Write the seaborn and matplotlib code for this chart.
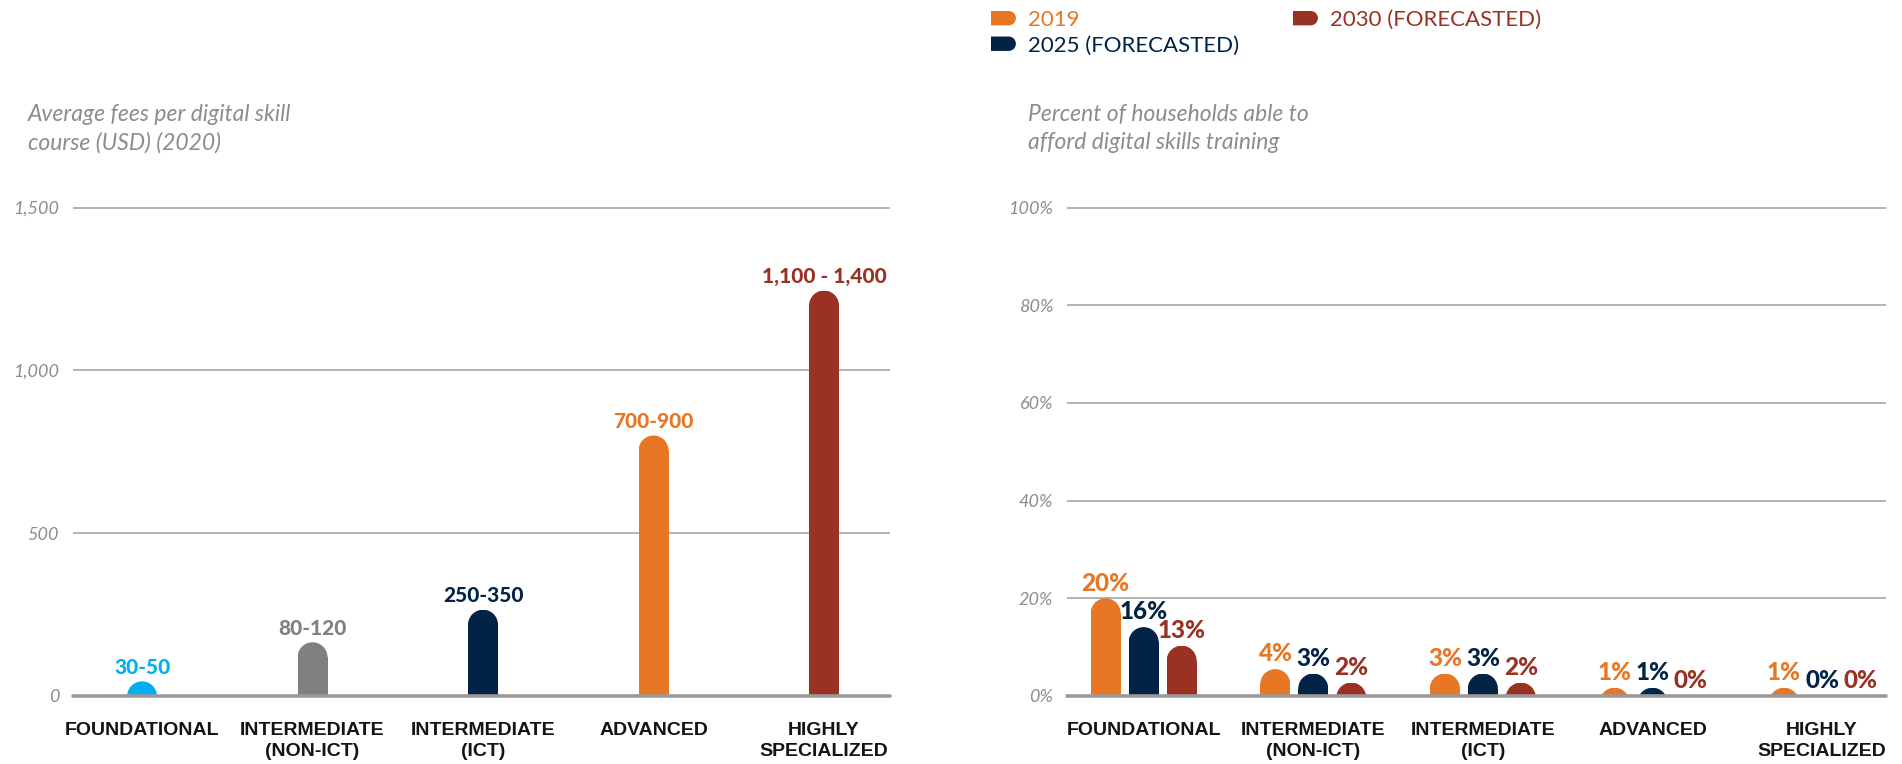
import numpy as np
import pandas as pd
import matplotlib
matplotlib.use('Agg')
import matplotlib.pyplot as plt
from matplotlib.patches import Rectangle, Ellipse, Patch, PathPatch
from matplotlib.path import Path
from matplotlib.legend_handler import HandlerPatch
import seaborn as sns

# ---------------- data ----------------
fee_categories = ['FOUNDATIONAL', 'INTERMEDIATE\n(NON-ICT)', 'INTERMEDIATE\n(ICT)',
                  'ADVANCED', 'HIGHLY\nSPECIALIZED']
fee_values = [45, 165, 265, 800, 1245]
fee_labels = ['30-50', '80-120', '250-350', '700-900', '1,100 - 1,400']
fee_colors = ['#00AEEF', '#808080', '#012345', '#E77724', '#993223']
fee_ticks = [0, 500, 1000, 1500]
fee_ticklabels = ['0', '500', '1,000', '1,500']

years = ['2019', '2025 (FORECASTED)', '2030 (FORECASTED)']
year_colors = ['#E77724', '#012345', '#993223']
afford_2019 = [20, 5.5, 4.6, 1.7, 1.7]
afford_2025 = [14.1, 4.6, 4.6, 1.7, 0]
afford_2030 = [10.3, 2.75, 2.75, 0, 0]
labels_2019 = ['20%', '4%', '3%', '1%', '1%']
labels_2025 = ['16%', '3%', '3%', '1%', '0%']
labels_2030 = ['13%', '2%', '2%', '0%', '0%']
pct_ticks = [0, 20, 40, 60, 80, 100]
pct_ticklabels = ['0%', '20%', '40%', '60%', '80%', '100%']

left_title = 'Average fees per digital skill\ncourse (USD) (2020)'
right_title = 'Percent of households able to\nafford digital skills training'

# ---------------- style ----------------
sns.set_style('white')
plt.rcParams['font.family'] = ['Lato', 'DejaVu Sans']
LIB = ['Liberation Sans', 'DejaVu Sans']
LATO = ['Lato', 'DejaVu Sans']
GRID = '#a6a6a6'
TICKGRAY = '#8c8c8c'

W, H = 1902, 764
fig = plt.figure(figsize=(W / 100, H / 100), dpi=100)

base_px = 696
ax_h = 508
ax1 = fig.add_axes([73 / W, 1 - base_px / H, 817 / W, ax_h / H])
ax2 = fig.add_axes([1067 / W, 1 - base_px / H, 819 / W, ax_h / H])

# ---------------- left chart ----------------
sns.barplot(x=fee_categories, y=fee_values, hue=fee_categories, palette=fee_colors,
            width=0.176, saturation=1, errorbar=None, legend=False, ax=ax1)
ax1.set_xlim(-0.405, 4.387)
ax1.set_ylim(0, 1500 * ax_h / 488.5)

# ---------------- right chart ----------------
df = pd.DataFrame({
    'category': fee_categories * 3,
    'year': [years[0]] * 5 + [years[1]] * 5 + [years[2]] * 5,
    'value': afford_2019 + afford_2025 + afford_2030,
})
sns.barplot(data=df, x='category', y='value', hue='year', hue_order=years,
            palette=year_colors, width=0.672, gap=0.21, saturation=1,
            errorbar=None, legend=False, ax=ax2)
ax2.set_xlim(-0.452, 4.377)
ax2.set_ylim(0, 100 * ax_h / 488.5)

pct_labels = [labels_2019, labels_2025, labels_2030]


def style_axis(ax, ticks, ticklabels):
    for s in ax.spines.values():
        s.set_visible(False)
    ax.set_yticks(ticks, labels=ticklabels, fontsize=13, fontstyle='italic',
                  fontweight='normal', color=TICKGRAY, fontfamily=LATO)
    ax.set_xticks(range(len(fee_categories)), labels=fee_categories, fontsize=14,
                  fontweight='bold', fontfamily=LIB, color='#141414',
                  linespacing=1.3)
    ax.tick_params(axis='y', length=0, pad=10)
    ax.tick_params(axis='x', length=0, pad=19)
    ax.set_xlabel('')
    ax.set_ylabel('')
    ax.grid(axis='y', color=GRID, lw=1.2)
    ax.grid(axis='x', visible=False)
    ax.set_axisbelow(True)
    ax.axhline(0, color='#999999', lw=2.6, zorder=6, clip_on=False)


style_axis(ax1, fee_ticks, fee_ticklabels)
style_axis(ax2, pct_ticks, pct_ticklabels)


def round_tops(ax):
    rects = [p for p in ax.patches if isinstance(p, Rectangle)]
    for p in rects:
        x, w, h = p.get_x(), p.get_width(), p.get_height()
        fc = p.get_facecolor()
        px0, py0 = ax.transData.transform((x, 0))
        px1, py1 = ax.transData.transform((x + w, 1))
        r_px = (px1 - px0) / 2
        r_y = r_px / (py1 - py0)
        clip = Rectangle((x, 0), w, max(h, 0), transform=ax.transData)
        body = Rectangle((x, 0), w, max(h - r_y, 0), facecolor=fc,
                         edgecolor='none', zorder=2)
        cap = Ellipse((x + w / 2, h - r_y), w, 2 * r_y, facecolor=fc,
                      edgecolor='none', zorder=2)
        for a in (body, cap):
            ax.add_patch(a)
            a.set_clip_path(clip)
        p.set_visible(False)


# value labels, left
for p in [p for p in ax1.patches if isinstance(p, Rectangle)]:
    cx = p.get_x() + p.get_width() / 2
    i = int(round(cx))
    ax1.annotate(fee_labels[i], (cx, p.get_height()), xytext=(0, 5.5),
                 textcoords='offset points', ha='center', va='baseline',
                 fontsize=15, fontweight='black', fontfamily=LATO,
                 color=fee_colors[i], zorder=7)

# value labels, right
for p in [p for p in ax2.patches if isinstance(p, Rectangle)]:
    cx = p.get_x() + p.get_width() / 2
    i = int(round(cx))
    j = int(round((cx - i) / 0.224)) + 1
    ax2.annotate(pct_labels[j][i], (cx, p.get_height()), xytext=(0, 5.5),
                 textcoords='offset points', ha='center', va='baseline',
                 fontsize=17.5, fontweight='black', fontfamily=LATO,
                 color=year_colors[j], zorder=7)

round_tops(ax1)
round_tops(ax2)

# ---------------- titles ----------------
fig.text(28 / W, 1 - 104 / H, left_title, ha='left', va='top', fontsize=16.5,
         fontstyle='italic', fontfamily=LATO, color='#8c8c8c', linespacing=1.42)
fig.text(1028 / W, 1 - 104 / H, right_title, ha='left', va='top', fontsize=16.5,
         fontstyle='italic', fontfamily=LATO, color='#8c8c8c', linespacing=1.42)


# ---------------- legend ----------------
class DHandler(HandlerPatch):
    def create_artists(self, legend, orig_handle, xdescent, ydescent, width,
                       height, fontsize, trans):
        x0, y0 = -xdescent, -ydescent
        r = height / 2
        arc = Path.arc(-90, 90)
        av = arc.vertices * r + np.array([x0 + width - r, y0 + r])
        verts = [(x0, y0)] + [tuple(v) for v in av] + [(x0, y0 + height), (x0, y0)]
        codes = [Path.MOVETO, Path.LINETO] + list(arc.codes[1:]) + [Path.LINETO, Path.CLOSEPOLY]
        patch = PathPatch(Path(verts, codes), facecolor=orig_handle.get_facecolor(),
                          edgecolor='none', transform=trans)
        return [patch]


handles = [Patch(facecolor=c) for c in year_colors]
leg_kw = dict(loc='upper left', frameon=False, borderpad=0, borderaxespad=0,
              handlelength=1.12, handleheight=0.62, handletextpad=0.55,
              labelspacing=0.25, prop={'family': LATO, 'size': 16},
              handler_map={Patch: DHandler()})
leg1 = fig.legend(handles[:2], years[:2], bbox_to_anchor=(991 / W, 1 - 10 / H), **leg_kw)
leg2 = fig.legend(handles[2:], years[2:], bbox_to_anchor=(1293 / W, 1 - 10 / H), **leg_kw)
for leg, cols in ((leg1, year_colors[:2]), (leg2, year_colors[2:])):
    for t, c in zip(leg.get_texts(), cols):
        t.set_color(c)

fig.savefig('out.png', dpi=100)
